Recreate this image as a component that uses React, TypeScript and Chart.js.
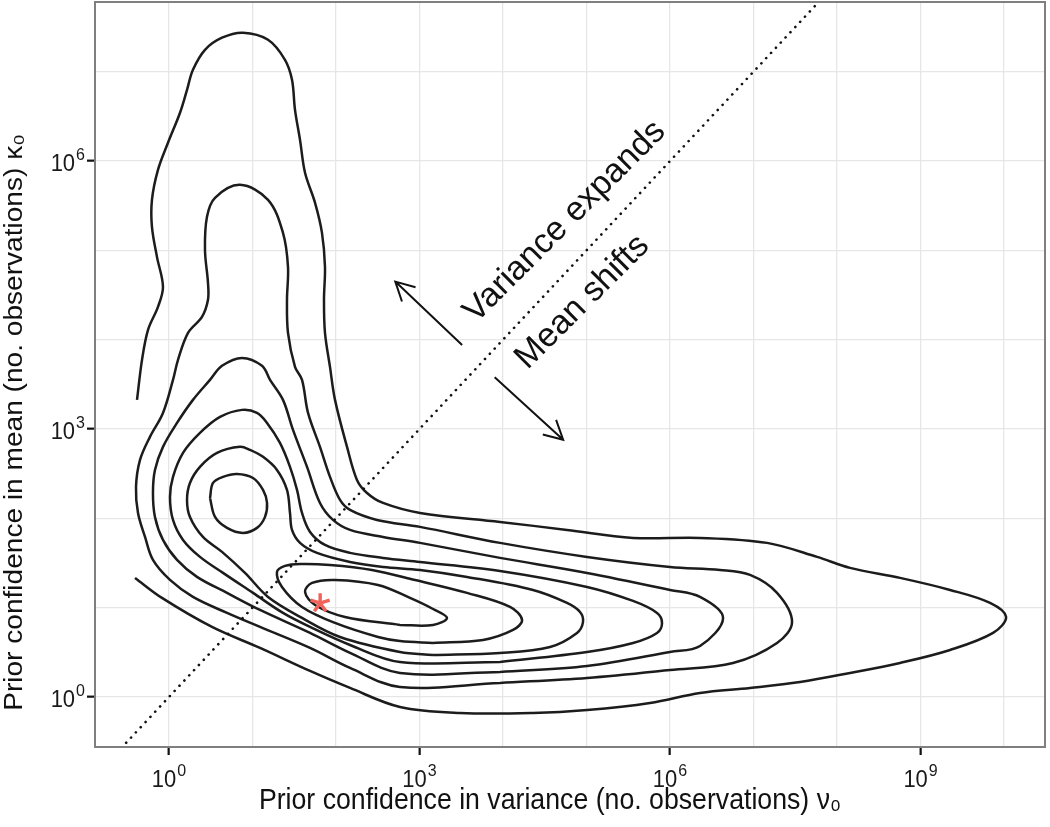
import React, { useEffect, useRef } from 'react';
import { Chart, registerables } from 'chart.js';

Chart.register(...registerables);

// Axes are log10 of the number of observations
const X_RANGE = [-0.886, 10.49];
const Y_RANGE = [-0.56, 7.78];
const X_GRID = [0, 1, 2, 3, 4, 5, 6, 7, 8, 9, 10];
const Y_GRID = [0, 1, 2, 3, 4, 5, 6, 7];
const X_LABELED = [0, 3, 6, 9];
const Y_LABELED = [0, 3, 6];
const TICK_BASE = '10';
const X_TITLE = 'Prior confidence in variance (no. observations) ν₀';
const Y_TITLE = 'Prior confidence in mean (no. observations) κ₀';

// Density contour levels, [log10 ν0, log10 κ0]
const contour1Open: [number, number][] = [
  [-0.383, 3.326], [-0.323, 3.774], [-0.251, 4.110], [-0.132, 4.367], [-0.072, 4.591],
  [-0.144, 4.927], [-0.204, 5.263], [-0.204, 5.565], [-0.132, 5.901], [-0.012, 6.204],
  [0.132, 6.540], [0.216, 6.797], [0.287, 7.021], [0.431, 7.245], [0.635, 7.380],
  [0.886, 7.436], [1.186, 7.357], [1.389, 7.133], [1.473, 6.909], [1.509, 6.573],
  [1.569, 6.237], [1.629, 5.868], [1.749, 5.532], [1.832, 5.196], [1.868, 4.815],
  [1.856, 4.446], [1.868, 4.076], [1.928, 3.695], [1.988, 3.326], [2.132, 2.800],
  [2.251, 2.430], [2.371, 2.284], [2.563, 2.172], [3.006, 2.060], [3.964, 1.960],
  [4.766, 1.870], [5.557, 1.781], [6.359, 1.781], [7.162, 1.725], [7.760, 1.568],
  [8.156, 1.445], [8.754, 1.333], [9.353, 1.198], [9.832, 1.053], [10.024, 0.896],
  [9.868, 0.717], [9.353, 0.526], [8.754, 0.381], [8.156, 0.269], [7.557, 0.168],
  [6.958, 0.101], [6.359, 0.045], [5.760, -0.067], [5.006, -0.146], [4.359, -0.179],
  [3.485, -0.179], [2.766, -0.112], [2.168, 0.101], [1.689, 0.291], [1.090, 0.549],
  [0.515, 0.784], [-0.084, 1.109], [-0.407, 1.333],
];

const contour2: [number, number][] = [
  [3.964, 0.157], [5.006, 0.213], [6.000, 0.302], [6.754, 0.381], [7.281, 0.605],
  [7.461, 0.840], [7.281, 1.165], [6.958, 1.366], [6.599, 1.422], [6.000, 1.456],
  [5.006, 1.568], [3.964, 1.725], [3.006, 1.904], [2.491, 1.982], [2.168, 2.094],
  [2.048, 2.206], [1.928, 2.464], [1.808, 2.800], [1.665, 3.180], [1.593, 3.550],
  [1.509, 3.695], [1.425, 4.076], [1.413, 4.446], [1.425, 4.815], [1.365, 5.196],
  [1.186, 5.565], [0.850, 5.733], [0.551, 5.588], [0.455, 5.375], [0.431, 5.006],
  [0.467, 4.636], [0.467, 4.446], [0.395, 4.255], [0.228, 4.076], [0.108, 3.774],
  [0.048, 3.550], [-0.072, 3.180], [-0.228, 2.912], [-0.347, 2.654], [-0.395, 2.352],
  [-0.371, 2.060], [-0.287, 1.792], [-0.192, 1.534], [0.012, 1.310], [0.287, 1.120],
  [0.695, 0.941], [1.090, 0.784], [1.689, 0.549], [2.168, 0.325], [2.766, 0.112],
];

const contour3: [number, number][] = [
  [3.964, 0.280], [5.006, 0.347], [6.000, 0.504], [6.359, 0.571], [6.635, 0.885],
  [6.359, 1.120], [6.000, 1.198], [5.006, 1.389], [3.964, 1.557], [3.006, 1.725],
  [2.563, 1.792], [2.168, 1.870], [1.964, 1.982], [1.808, 2.172], [1.653, 2.576],
  [1.485, 2.990], [1.365, 3.326], [1.210, 3.550], [1.114, 3.707], [0.874, 3.796],
  [0.635, 3.707], [0.491, 3.550], [0.287, 3.326], [0.096, 3.068], [-0.072, 2.800],
  [-0.168, 2.542], [-0.192, 2.284], [-0.168, 2.016], [-0.072, 1.758], [0.096, 1.534],
  [0.335, 1.344], [0.695, 1.165], [1.090, 0.974], [1.689, 0.717], [2.168, 0.493],
  [2.766, 0.269],
];

const contour4: [number, number][] = [
  [3.964, 0.392], [5.006, 0.504], [5.557, 0.605], [5.844, 0.717], [5.904, 0.829],
  [5.844, 0.941], [5.557, 1.075], [5.006, 1.232], [3.964, 1.411], [3.006, 1.512],
  [2.563, 1.557], [2.168, 1.613], [1.868, 1.702], [1.689, 1.848], [1.593, 2.060],
  [1.533, 2.318], [1.449, 2.576], [1.329, 2.844], [1.174, 3.068], [1.054, 3.180],
  [0.874, 3.214], [0.611, 3.135], [0.371, 2.956], [0.168, 2.732], [0.048, 2.464],
  [0.012, 2.240], [0.048, 1.982], [0.168, 1.758], [0.371, 1.568], [0.647, 1.389],
  [1.006, 1.165], [1.365, 0.941], [1.689, 0.784], [2.168, 0.582], [2.766, 0.392],
];

const contour5: [number, number][] = [
  [3.162, 0.470], [3.964, 0.493], [4.563, 0.560], [4.886, 0.717], [4.958, 0.840],
  [4.922, 0.952], [4.766, 1.053], [4.359, 1.198], [3.569, 1.344], [3.006, 1.422],
  [2.563, 1.456], [2.168, 1.512], [1.772, 1.613], [1.569, 1.725], [1.473, 1.870],
  [1.449, 2.060], [1.413, 2.318], [1.293, 2.542], [1.126, 2.688], [0.970, 2.766],
  [0.850, 2.800], [0.575, 2.732], [0.371, 2.576], [0.251, 2.396], [0.216, 2.206],
  [0.251, 2.016], [0.407, 1.792], [0.635, 1.624], [0.910, 1.389], [1.186, 1.120],
  [1.593, 0.885], [2.048, 0.672], [2.766, 0.504],
];

const contour6Blob: [number, number][] = [
  [0.491, 2.228], [0.527, 2.396], [0.647, 2.464], [0.814, 2.497], [1.006, 2.452],
  [1.126, 2.318], [1.174, 2.172], [1.150, 2.016], [1.054, 1.893], [0.886, 1.837],
  [0.695, 1.893], [0.551, 2.016],
];

const contour6Tail: [number, number][] = [
  [3.162, 0.605], [3.760, 0.638], [4.120, 0.750], [4.228, 0.862], [4.084, 1.008],
  [3.569, 1.165], [2.946, 1.310], [2.431, 1.422], [1.928, 1.478], [1.569, 1.489],
  [1.389, 1.467], [1.293, 1.400], [1.353, 1.232], [1.593, 1.008], [1.988, 0.829],
  [2.503, 0.672], [2.766, 0.627],
];

const contour7: [number, number][] = [
  [2.766, 0.806], [3.162, 0.806], [3.329, 0.885], [3.162, 0.985], [2.886, 1.109],
  [2.503, 1.254], [1.988, 1.310], [1.713, 1.277], [1.629, 1.176], [1.749, 1.030],
  [2.108, 0.896],
];

// Identity line log κ0 = log ν0
const identityLine: [number, number][] = [[-1.5, -1.5], [9, 9]];

// Annotation arrows: [from, to]
const arrowVarianceExpands: [number, number][] = [[3.51, 3.94], [2.71, 4.65]];
const arrowMeanShifts: [number, number][] = [[3.90, 3.58], [4.72, 2.88]];
const annotationTexts = ['Variance expands', 'Mean shifts'];
const annotationX = [4.74, 4.95];
const annotationY = [5.32, 4.42];

// Posterior optimum marker
const optimumX = [1.81];
const optimumY = [1.05];

const toPts = (arr: [number, number][], close: boolean) => {
  const pts = arr.map(([x, y]) => ({ x, y }));
  if (close) pts.push({ x: arr[0][0], y: arr[0][1] });
  return pts;
};

const FONT = '"Liberation Sans", Arial, Helvetica, sans-serif';

// draws "10" with a raised exponent; anchor: 'center' (x axis) or 'right' (y axis)
const drawPowerLabel = (ctx: any, exp: number, x: number, baseline: number, anchor: string) => {
  ctx.font = `22px ${FONT}`;
  const wBase = ctx.measureText(TICK_BASE).width;
  ctx.font = `16px ${FONT}`;
  const expText = String(exp);
  const wExp = ctx.measureText(expText).width;
  const total = wBase + wExp + 1;
  const left = anchor === 'center' ? x - total / 2 : x - total;
  ctx.save();
  ctx.translate(left, baseline);
  ctx.scale(1, 1.08);
  ctx.textAlign = 'left';
  ctx.textBaseline = 'alphabetic';
  ctx.font = `22px ${FONT}`;
  ctx.fillText(TICK_BASE, 0, 0);
  ctx.font = `16px ${FONT}`;
  ctx.fillText(expText, wBase + 1, -10);
  ctx.restore();
};

const overlayPlugin = {
  id: 'overlay',
  afterDatasetsDraw(chart: any) {
    const { ctx, chartArea, scales } = chart;
    const xs = scales.x;
    const ys = scales.y;
    ctx.save();
    ctx.beginPath();
    ctx.rect(chartArea.left, chartArea.top, chartArea.right - chartArea.left, chartArea.bottom - chartArea.top);
    ctx.clip();

    // arrows
    ctx.strokeStyle = '#111';
    ctx.lineWidth = 2;
    ctx.lineCap = 'butt';
    for (const arrow of [arrowVarianceExpands, arrowMeanShifts]) {
      const x0 = xs.getPixelForValue(arrow[0][0]);
      const y0 = ys.getPixelForValue(arrow[0][1]);
      const x1 = xs.getPixelForValue(arrow[1][0]);
      const y1 = ys.getPixelForValue(arrow[1][1]);
      const ang = Math.atan2(y1 - y0, x1 - x0);
      const head = 21;
      const spread = (28 * Math.PI) / 180;
      ctx.beginPath();
      ctx.moveTo(x0, y0);
      ctx.lineTo(x1, y1);
      ctx.moveTo(x1 - head * Math.cos(ang - spread), y1 - head * Math.sin(ang - spread));
      ctx.lineTo(x1, y1);
      ctx.lineTo(x1 - head * Math.cos(ang + spread), y1 - head * Math.sin(ang + spread));
      ctx.stroke();
    }

    // rotated annotation texts
    ctx.fillStyle = '#111';
    ctx.font = `34px ${FONT}`;
    ctx.textAlign = 'center';
    ctx.textBaseline = 'middle';
    annotationTexts.forEach((t, i) => {
      const px = xs.getPixelForValue(annotationX[i]);
      const py = ys.getPixelForValue(annotationY[i]);
      ctx.save();
      ctx.translate(px, py);
      ctx.rotate(-Math.PI / 4);
      ctx.fillText(t, 0, 0);
      ctx.restore();
    });

    // asterisk marker
    ctx.strokeStyle = '#F0625A';
    ctx.lineWidth = 3.4;
    ctx.lineCap = 'butt';
    optimumX.forEach((vx, i) => {
      const cx = xs.getPixelForValue(vx);
      const cy = ys.getPixelForValue(optimumY[i]);
      const r = 10;
      ctx.beginPath();
      for (let k = 0; k < 5; k++) {
        const a = -Math.PI / 2 + (k * 2 * Math.PI) / 5;
        ctx.moveTo(cx, cy);
        ctx.lineTo(cx + r * Math.cos(a), cy + r * Math.sin(a));
      }
      ctx.stroke();
    });
    ctx.restore();

    // panel border
    ctx.save();
    ctx.strokeStyle = '#7f7f7f';
    ctx.lineWidth = 2;
    ctx.strokeRect(chartArea.left, chartArea.top, chartArea.right - chartArea.left, chartArea.bottom - chartArea.top);
    ctx.restore();

    // tick labels with superscript exponents
    ctx.save();
    ctx.fillStyle = '#1a1a1a';
    X_LABELED.forEach((v) => {
      drawPowerLabel(ctx, v, xs.getPixelForValue(v), chartArea.bottom + 40, 'center');
    });
    Y_LABELED.forEach((v) => {
      drawPowerLabel(ctx, v, chartArea.left - 10, ys.getPixelForValue(v) + 10, 'right');
    });
    ctx.restore();

    // axis titles (slightly tall glyphs, as in the source figure)
    ctx.fillStyle = '#111';
    ctx.textAlign = 'center';
    ctx.textBaseline = 'middle';
    const midX = (chartArea.left + chartArea.right) / 2;
    const midY = (chartArea.top + chartArea.bottom) / 2;
    ctx.save();
    ctx.font = `26.7px ${FONT}`;
    ctx.translate(midX - 20, chartArea.bottom + 54);
    ctx.scale(1, 1.08);
    ctx.fillText(X_TITLE, 0, 0);
    ctx.restore();
    ctx.save();
    ctx.font = `26px ${FONT}`;
    ctx.translate(15, midY + 48);
    ctx.rotate(-Math.PI / 2);
    ctx.scale(1.08, 1);
    ctx.fillText(Y_TITLE, 0, 0);
    ctx.restore();
  },
};

const contourStyle = {
  showLine: true,
  tension: 0.35,
  pointRadius: 0,
  borderColor: '#1c1c1c',
  borderWidth: 2.5,
  fill: false,
};

const tickMarkColor = (labeled: number[]) => (c: any) =>
  c.tick && labeled.includes(c.tick.value) ? '#111' : 'rgba(0,0,0,0)';

export default function App() {
  const ref = useRef<HTMLCanvasElement | null>(null);

  useEffect(() => {
    if (!ref.current) return;
    Chart.defaults.font.family = FONT;
    const chart = new Chart(ref.current, {
      type: 'scatter',
      data: {
        datasets: [
          {
            data: toPts(identityLine, false),
            showLine: true,
            pointRadius: 0,
            borderColor: '#111',
            borderWidth: 2.6,
            borderDash: [0.1, 7],
            borderCapStyle: 'round',
            tension: 0,
          } as any,
          { ...contourStyle, data: toPts(contour1Open, false) },
          { ...contourStyle, data: toPts(contour2, true) },
          { ...contourStyle, data: toPts(contour3, true) },
          { ...contourStyle, data: toPts(contour4, true) },
          { ...contourStyle, data: toPts(contour5, true) },
          { ...contourStyle, data: toPts(contour6Blob, true) },
          { ...contourStyle, data: toPts(contour6Tail, true) },
          { ...contourStyle, data: toPts(contour7, true) },
        ],
      },
      options: {
        responsive: false,
        animation: false,
        devicePixelRatio: 1,
        events: [],
        layout: { padding: { top: 2, right: 5, left: 0, bottom: 0 } },
        plugins: { legend: { display: false }, tooltip: { enabled: false } },
        scales: {
          x: {
            type: 'linear',
            min: X_RANGE[0],
            max: X_RANGE[1],
            afterBuildTicks: (s: any) => {
              s.ticks = X_GRID.map((v) => ({ value: v }));
            },
            afterFit: (s: any) => {
              s.height = 80;
              s.paddingLeft = 0;
              s.paddingRight = 0;
            },
            border: { display: false },
            grid: {
              color: '#e6e6e6',
              lineWidth: 1.3,
              drawTicks: true,
              tickLength: 8,
              tickWidth: 2.2,
              tickColor: tickMarkColor(X_LABELED),
            },
            ticks: { display: false },
            title: { display: false },
          },
          y: {
            type: 'linear',
            min: Y_RANGE[0],
            max: Y_RANGE[1],
            afterBuildTicks: (s: any) => {
              s.ticks = Y_GRID.map((v) => ({ value: v }));
            },
            afterFit: (s: any) => {
              s.width = 95;
              s.paddingTop = 0;
              s.paddingBottom = 0;
            },
            border: { display: false },
            grid: {
              color: '#e6e6e6',
              lineWidth: 1.3,
              drawTicks: true,
              tickLength: 8,
              tickWidth: 2.2,
              tickColor: tickMarkColor(Y_LABELED),
            },
            ticks: { display: false },
            title: { display: false },
          },
        },
      },
      plugins: [overlayPlugin],
    } as any);
    return () => chart.destroy();
  }, []);

  return (
    <div style={{ position: 'fixed', left: 0, top: 0, width: 1050, height: 827, background: '#fff' }}>
      <canvas ref={ref} width={1050} height={827} style={{ display: 'block', width: 1050, height: 827 }} />
    </div>
  );
}
